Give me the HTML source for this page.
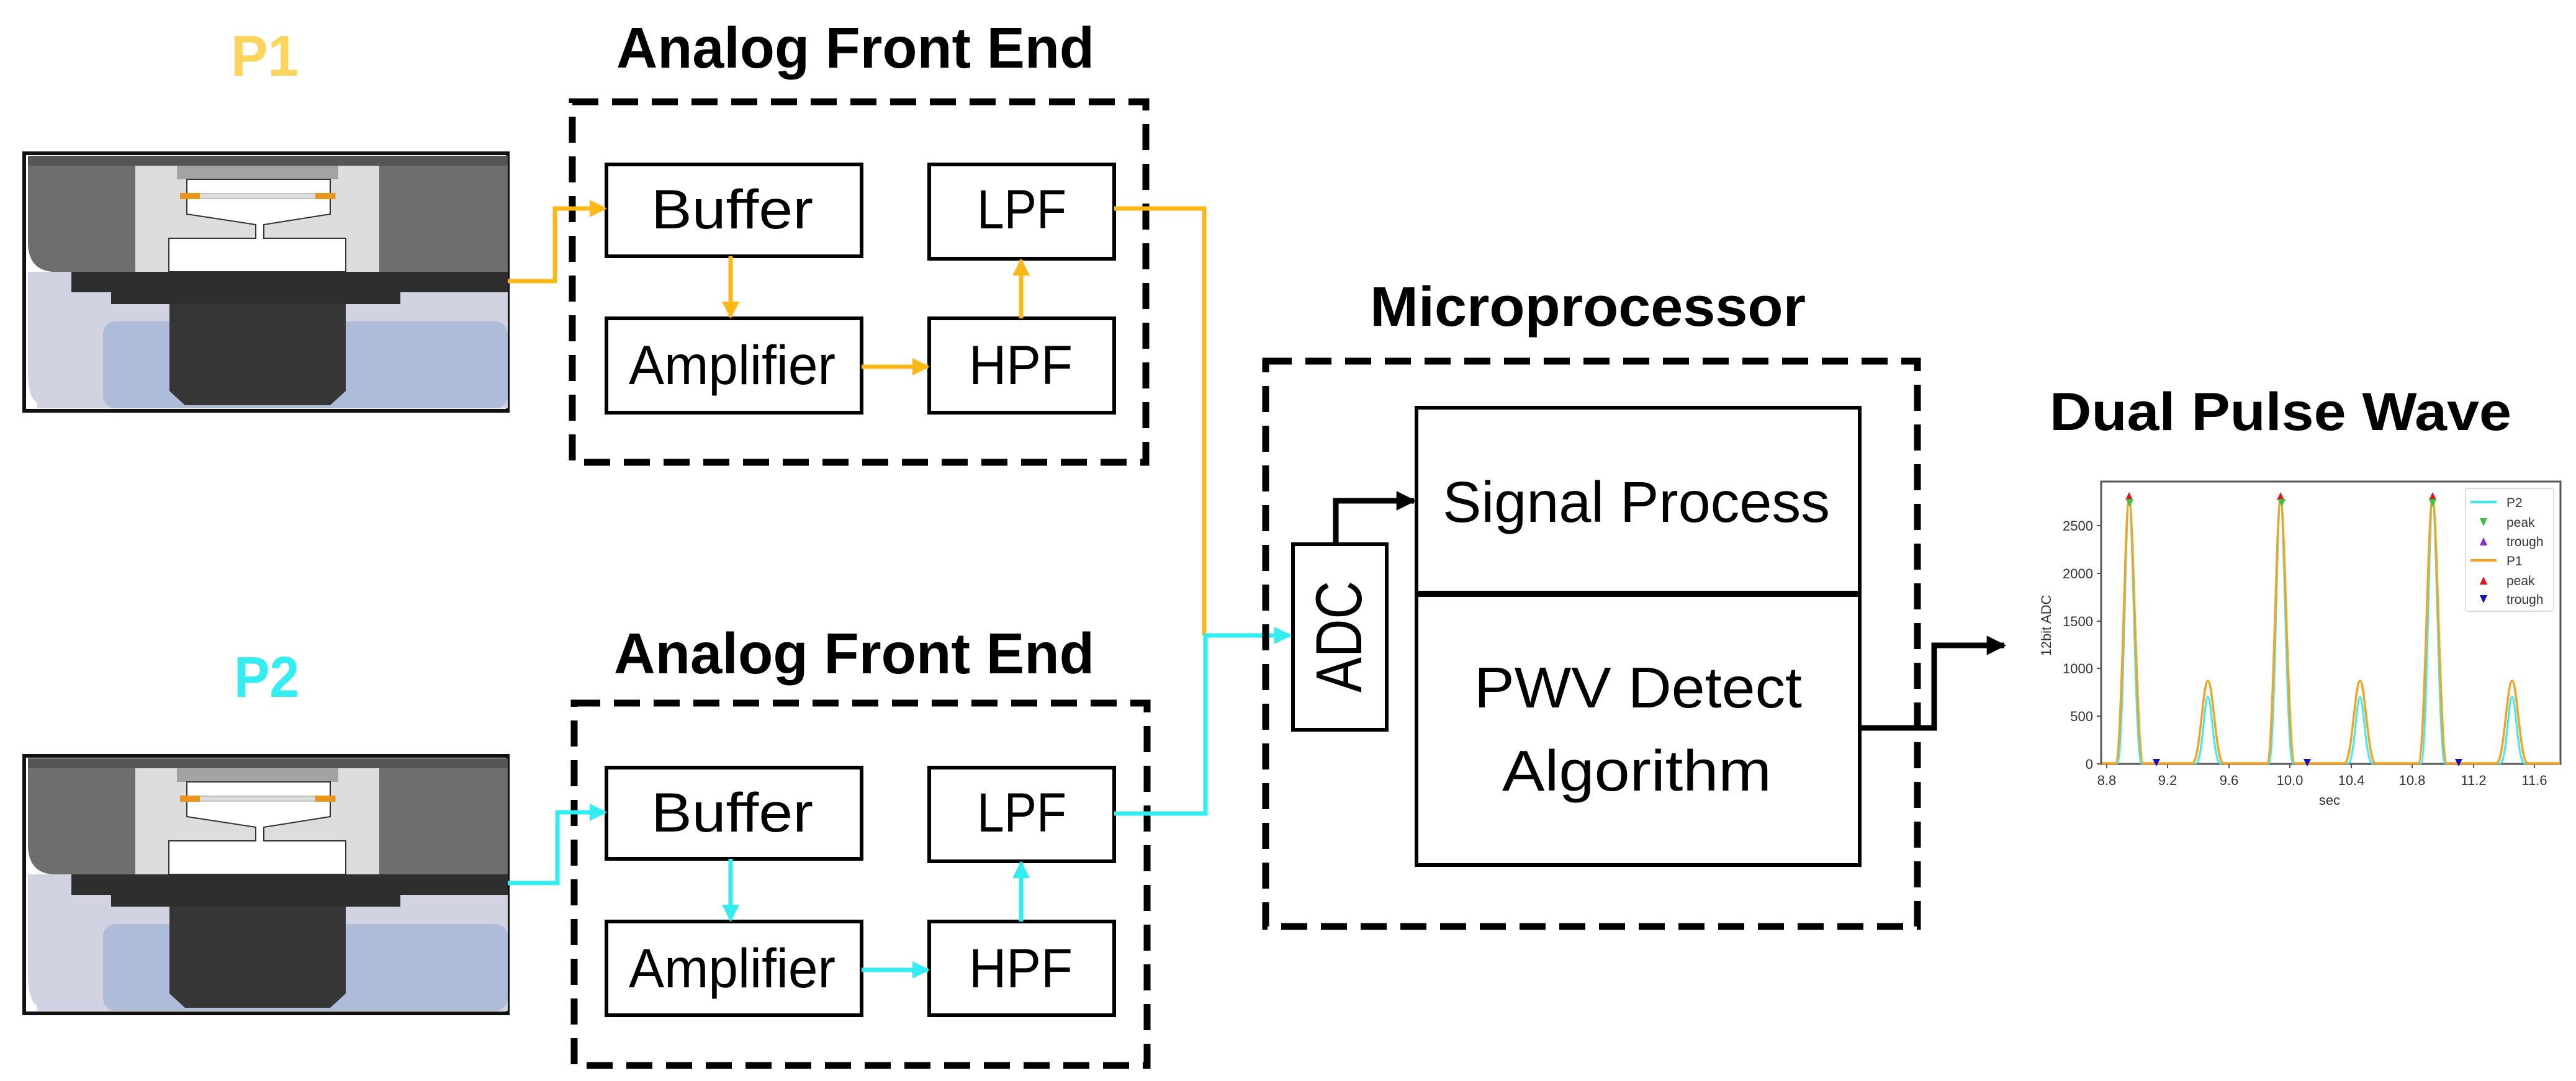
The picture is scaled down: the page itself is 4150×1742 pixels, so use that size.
<!DOCTYPE html>
<html><head><meta charset="utf-8"><style>
html,body{margin:0;padding:0;background:#fff;}
svg{display:block;}
text{font-family:"Liberation Sans",sans-serif;}
</style></head><body>
<svg width="4150" height="1742" viewBox="0 0 4150 1742" xmlns="http://www.w3.org/2000/svg">
<defs>
<g id="sensor">
  <rect x="39" y="247" width="779" height="415" fill="#fff" stroke="#111" stroke-width="6"/>
  <path d="M45 438 L45 600 Q45 640 60 650 L60 658 L818 658 L818 438 Z" fill="#d1d3e2"/>
  <rect x="166" y="518" width="652" height="140" rx="20" fill="#adbdd9"/>
  <rect x="45" y="251" width="773" height="16" fill="#555"/>
  <path d="M45 267 L218 267 L218 438 L85 438 Q45 435 45 390 Z" fill="#6e6e6e"/>
  <rect x="611" y="267" width="207" height="171" fill="#6e6e6e"/>
  <rect x="218" y="267" width="393" height="171" fill="#dcdddc"/>
  <rect x="285" y="267" width="260" height="22" fill="#a3a3a3"/>
  <path d="M301 289 L532 289 L532 345 L425 362 L425 384 L557 384 L557 438 L272 438 L272 384 L412 384 L412 362 L301 345 Z" fill="#fff" stroke="#333" stroke-width="2"/>
  <rect x="295" y="312" width="245" height="8" fill="#ddd" stroke="#999" stroke-width="1"/>
  <rect x="290" y="311" width="32" height="10" fill="#e8961c"/>
  <rect x="508" y="311" width="32" height="10" fill="#e8961c"/>
  <rect x="115" y="438" width="703" height="33" fill="#2e2e2e"/>
  <rect x="179" y="471" width="466" height="19" fill="#2e2e2e"/>
  <path d="M273 490 L557 490 L557 630 L532 653 L298 653 L273 630 Z" fill="#363636"/>
</g>
<marker id="ay" viewBox="0 0 10 10" refX="9" refY="5" markerWidth="4" markerHeight="4" orient="auto"><path d="M0 0 L10 5 L0 10 Z" fill="#fbb817"/></marker>
<marker id="ac" viewBox="0 0 10 10" refX="9" refY="5" markerWidth="4" markerHeight="4" orient="auto"><path d="M0 0 L10 5 L0 10 Z" fill="#33eef0"/></marker>
<marker id="ak" viewBox="0 0 10 10" refX="9" refY="5" markerWidth="3.5" markerHeight="3.5" orient="auto"><path d="M0 0 L10 5 L0 10 Z" fill="#000"/></marker>
</defs>

<!-- Top section -->
<text x="372" y="122" font-size="93" font-weight="bold" fill="#fdd55c" textLength="109" lengthAdjust="spacingAndGlyphs">P1</text>
<use href="#sensor"/>
<text x="993" y="109" font-size="93" font-weight="bold" textLength="770" lengthAdjust="spacingAndGlyphs">Analog Front End</text>
<rect x="922" y="164" width="924" height="581" fill="none" stroke="#000" stroke-width="11" stroke-dasharray="42 22"/>
<g fill="#fff" stroke="#000" stroke-width="6">
<rect x="977" y="265" width="411" height="148"/>
<rect x="1497" y="265" width="298" height="152"/>
<rect x="977" y="513" width="411" height="152"/>
<rect x="1497" y="513" width="298" height="152"/>
</g>
<g font-size="89">
<text x="1049" y="368" textLength="261" lengthAdjust="spacingAndGlyphs">Buffer</text>
<text x="1574" y="368" textLength="144" lengthAdjust="spacingAndGlyphs">LPF</text>
<text x="1013" y="619" textLength="333" lengthAdjust="spacingAndGlyphs">Amplifier</text>
<text x="1561" y="619" textLength="167" lengthAdjust="spacingAndGlyphs">HPF</text>
</g>
<g fill="none" stroke="#fbb817" stroke-width="7">
<path d="M818 453 L894 453 L894 336 L975 336" marker-end="url(#ay)"/>
<path d="M1177 413 L1177 511" marker-end="url(#ay)"/>
<path d="M1645 513 L1645 419" marker-end="url(#ay)"/>
<path d="M1388 591 L1495 591" marker-end="url(#ay)"/>
<path d="M1795 336 L1940 336 L1940 1024"/>
</g>

<!-- Bottom section -->
<text x="377" y="1123" font-size="93" font-weight="bold" fill="#33eef0" textLength="105" lengthAdjust="spacingAndGlyphs">P2</text>
<use href="#sensor" transform="translate(0,971)"/>
<text x="989" y="1085" font-size="93" font-weight="bold" textLength="774" lengthAdjust="spacingAndGlyphs">Analog Front End</text>
<rect x="925" y="1133" width="923" height="584" fill="none" stroke="#000" stroke-width="11" stroke-dasharray="42 22"/>
<g fill="#fff" stroke="#000" stroke-width="6">
<rect x="977" y="1237" width="411" height="147"/>
<rect x="1497" y="1237" width="298" height="151"/>
<rect x="977" y="1485" width="411" height="151"/>
<rect x="1497" y="1485" width="298" height="151"/>
</g>
<g font-size="89">
<text x="1049" y="1340" textLength="261" lengthAdjust="spacingAndGlyphs">Buffer</text>
<text x="1574" y="1340" textLength="144" lengthAdjust="spacingAndGlyphs">LPF</text>
<text x="1013" y="1591" textLength="333" lengthAdjust="spacingAndGlyphs">Amplifier</text>
<text x="1561" y="1591" textLength="167" lengthAdjust="spacingAndGlyphs">HPF</text>
</g>
<g fill="none" stroke="#33eef0" stroke-width="7">
<path d="M818 1423 L898 1423 L898 1309 L975 1309" marker-end="url(#ac)"/>
<path d="M1177 1384 L1177 1483" marker-end="url(#ac)"/>
<path d="M1645 1485 L1645 1390" marker-end="url(#ac)"/>
<path d="M1388 1563 L1495 1563" marker-end="url(#ac)"/>
<path d="M1795 1311 L1942 1311 L1942 1024 L2078 1024" marker-end="url(#ac)"/>
</g>

<!-- Microprocessor -->
<text x="2207" y="525" font-size="90" font-weight="bold" textLength="702" lengthAdjust="spacingAndGlyphs">Microprocessor</text>
<rect x="2039" y="582" width="1050" height="911" fill="none" stroke="#000" stroke-width="11" stroke-dasharray="42 22"/>
<rect x="2282" y="657" width="714" height="737" fill="#fff" stroke="#000" stroke-width="6"/>
<line x1="2282" y1="957" x2="2996" y2="957" stroke="#000" stroke-width="10"/>
<rect x="2083" y="877" width="151" height="299" fill="#fff" stroke="#000" stroke-width="6"/>
<text transform="translate(2193,1116) rotate(-90)" font-size="105" textLength="180" lengthAdjust="spacingAndGlyphs">ADC</text>
<text x="2324" y="841" font-size="93" textLength="624" lengthAdjust="spacingAndGlyphs">Signal Process</text>
<text x="2375" y="1140" font-size="93" textLength="528" lengthAdjust="spacingAndGlyphs">PWV Detect</text>
<text x="2420" y="1274" font-size="93" textLength="434" lengthAdjust="spacingAndGlyphs">Algorithm</text>
<g fill="none" stroke="#000" stroke-width="9">
<path d="M2152 877 L2152 807 L2278 807" marker-end="url(#ak)"/>
<path d="M2996 1173 L3116 1173 L3116 1040 L3229 1040" marker-end="url(#ak)"/>
</g>

<!-- Dual pulse wave -->
<text x="3302" y="693" font-size="86" font-weight="bold" textLength="744" lengthAdjust="spacingAndGlyphs">Dual Pulse Wave</text>
<rect x="3385" y="776" width="740" height="455" fill="#fff" stroke="#555" stroke-width="3"/>
<g font-size="22" fill="#333" text-anchor="end">
<text x="3372" y="1239">0</text>
<text x="3372" y="1162">500</text>
<text x="3372" y="1085">1000</text>
<text x="3372" y="1009">1500</text>
<text x="3372" y="932">2000</text>
<text x="3372" y="855">2500</text>
</g>
<g stroke="#555" stroke-width="2">
<line x1="3378" y1="1231" x2="3385" y2="1231"/><line x1="3378" y1="1154" x2="3385" y2="1154"/><line x1="3378" y1="1077" x2="3385" y2="1077"/><line x1="3378" y1="1001" x2="3385" y2="1001"/><line x1="3378" y1="924" x2="3385" y2="924"/><line x1="3378" y1="847" x2="3385" y2="847"/>
<line x1="3394" y1="1231" x2="3394" y2="1238"/><line x1="3492" y1="1231" x2="3492" y2="1238"/><line x1="3591" y1="1231" x2="3591" y2="1238"/><line x1="3689" y1="1231" x2="3689" y2="1238"/><line x1="3788" y1="1231" x2="3788" y2="1238"/><line x1="3886" y1="1231" x2="3886" y2="1238"/><line x1="3985" y1="1231" x2="3985" y2="1238"/><line x1="4083" y1="1231" x2="4083" y2="1238"/>
</g>
<g font-size="22" fill="#333" text-anchor="middle">
<text x="3394" y="1265">8.8</text><text x="3492" y="1265">9.2</text><text x="3591" y="1265">9.6</text><text x="3689" y="1265">10.0</text><text x="3788" y="1265">10.4</text><text x="3886" y="1265">10.8</text><text x="3985" y="1265">11.2</text><text x="4083" y="1265">11.6</text>
<text x="3753" y="1297">sec</text>
<text transform="translate(3304,1008) rotate(-90)">12bit ADC</text>
</g>
<!-- P2 cyan -->
<path fill="none" stroke="#33eef0" stroke-width="3" d="M3386 1230 L3411 1230 C3421 1230 3424 809 3430 809 C3436 809 3440 1230 3450 1230 L3538 1230 C3548 1230 3551 1123 3557 1123 C3563 1123 3566 1230 3577 1230 L3655 1230 C3665 1230 3668 809 3674 809 C3680 809 3684 1230 3694 1230 L3783 1230 C3793 1230 3796 1123 3802 1123 C3808 1123 3811 1230 3822 1230 L3900 1230 C3910 1230 3913 809 3919 809 C3925 809 3929 1230 3939 1230 L4028 1230 C4038 1230 4041 1123 4047 1123 C4053 1123 4056 1230 4067 1230 L4124 1230"/>
<!-- P1 orange -->
<path fill="none" stroke="#f9a11b" stroke-width="3.5" d="M3386 1230 L3408 1230 C3419 1230 3423 804 3430 804 C3437 804 3442 1230 3453 1230 L3532 1230 C3544 1230 3549 1097 3557 1097 C3565 1097 3570 1230 3582 1230 L3652 1230 C3663 1230 3667 804 3674 804 C3681 804 3686 1230 3697 1230 L3777 1230 C3789 1230 3794 1097 3802 1097 C3810 1097 3815 1230 3827 1230 L3896 1230 C3907 1230 3911 804 3919 804 C3926 804 3931 1230 3942 1230 L4022 1230 C4034 1230 4039 1097 4047 1097 C4055 1097 4060 1230 4072 1230 L4124 1230"/>
<g fill="#e8141a">
<path d="M3424 806 L3436 806 L3430 793 Z"/><path d="M3668 806 L3680 806 L3674 793 Z"/><path d="M3913 806 L3925 806 L3919 793 Z"/>
</g>
<g fill="#3cc13c">
<path d="M3425 804 L3437 804 L3431 817 Z"/><path d="M3670 804 L3682 804 L3676 817 Z"/><path d="M3913 804 L3925 804 L3919 817 Z"/>
</g>
<g fill="#1010c0">
<path d="M3468 1223 L3480 1223 L3474 1235 Z"/><path d="M3711 1223 L3723 1223 L3717 1235 Z"/><path d="M3955 1223 L3967 1223 L3961 1235 Z"/>
</g>
<!-- legend -->
<rect x="3972" y="787" width="142" height="198" fill="#fff" stroke="#ddd" stroke-width="2" rx="3"/>
<line x1="3980" y1="809" x2="4022" y2="809" stroke="#33eef0" stroke-width="4"/>
<path d="M3995 835 L4007 835 L4001 848 Z" fill="#3cc13c"/>
<path d="M3995 879 L4007 879 L4001 866 Z" fill="#8a2be2"/>
<line x1="3980" y1="903" x2="4022" y2="903" stroke="#f9a11b" stroke-width="4"/>
<path d="M3995 942 L4007 942 L4001 929 Z" fill="#e8141a"/>
<path d="M3995 959 L4007 959 L4001 972 Z" fill="#1010c0"/>
<g font-size="21" fill="#333">
<text x="4038" y="817">P2</text><text x="4038" y="849">peak</text><text x="4038" y="880">trough</text>
<text x="4038" y="911">P1</text><text x="4038" y="943">peak</text><text x="4038" y="973">trough</text>
</g>
</svg>
</body></html>
